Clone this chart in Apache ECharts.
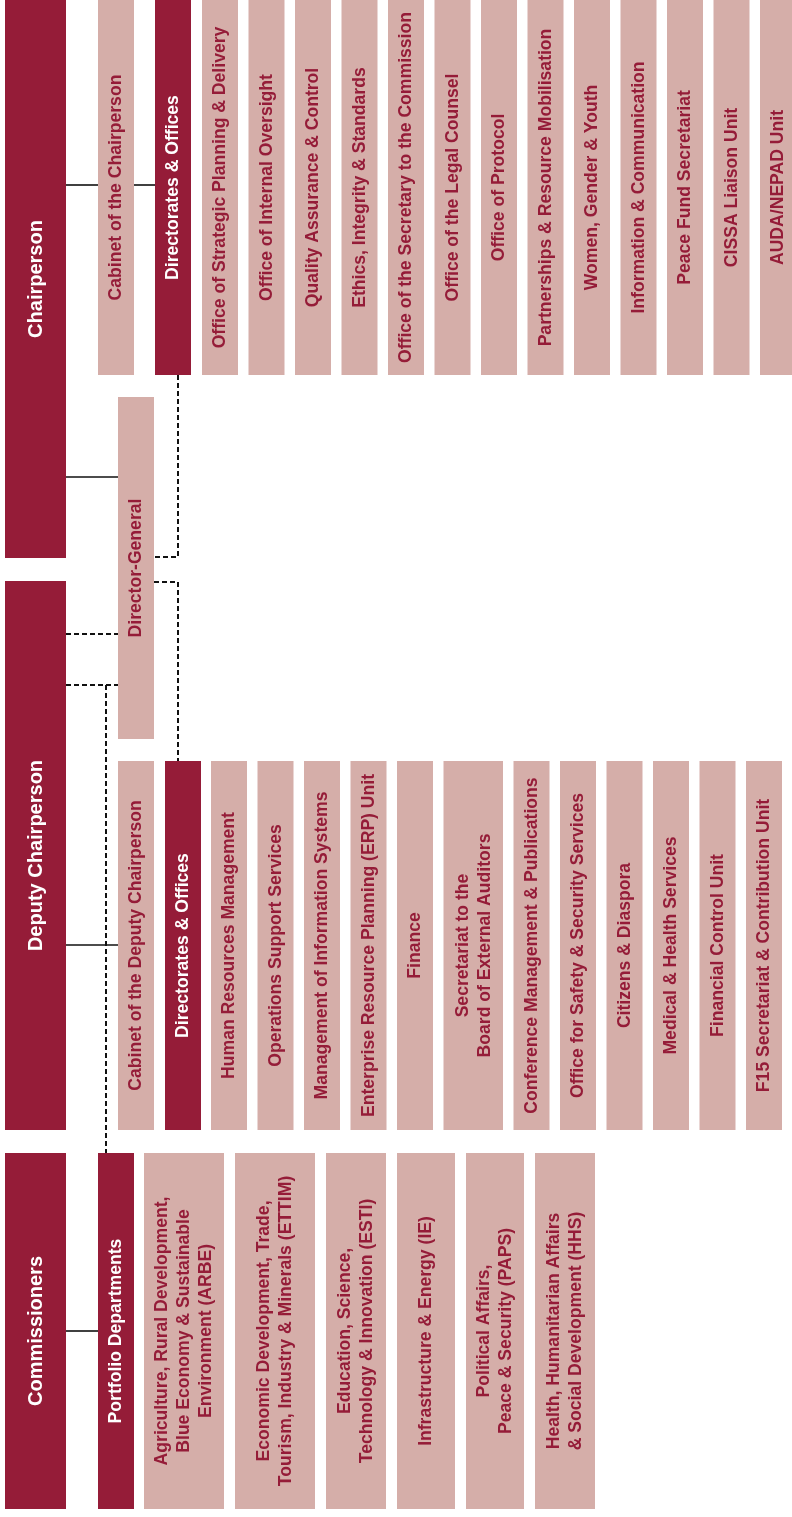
<!DOCTYPE html>
<html><head><meta charset="utf-8">
<script src="https://cdn.jsdelivr.net/npm/echarts@6/dist/echarts.min.js"></script>
<style>html,body{margin:0;padding:0;background:#fff}#c{width:792px;height:1517px}</style>
</head><body><div id="c"></div><script>
// ---------------- DATA (labels) ----------------
const leaders = ['Chairperson', 'Deputy Chairperson', 'Commissioners'];
const chairCabinet = 'Cabinet of the Chairperson';
const chairHub = 'Directorates & Offices';
const chairOffices = [
  'Office of Strategic Planning & Delivery',
  'Office of Internal Oversight',
  'Quality Assurance & Control',
  'Ethics, Integrity & Standards',
  'Office of the Secretary to the Commission',
  'Office of the Legal Counsel',
  'Office of Protocol',
  'Partnerships & Resource Mobilisation',
  'Women, Gender & Youth',
  'Information & Communication',
  'Peace Fund Secretariat',
  'CISSA Liaison Unit',
  'AUDA/NEPAD Unit'
];
const directorGeneral = 'Director-General';
const deputyCabinet = 'Cabinet of the Deputy Chairperson';
const deputyHub = 'Directorates & Offices';
const deputyOffices = [
  'Human Resources Management',
  'Operations Support Services',
  'Management of Information Systems',
  'Enterprise Resource Planning (ERP) Unit',
  'Finance',
  'Secretariat to the\nBoard of External Auditors',
  'Conference Management & Publications',
  'Office for Safety & Security Services',
  'Citizens & Diaspora',
  'Medical & Health Services',
  'Financial Control Unit',
  'F15 Secretariat & Contribution Unit'
];
const portfolioHub = 'Portfolio Departments';
const portfolioDepartments = [
  'Agriculture, Rural Development,\nBlue Economy & Sustainable\nEnvironment (ARBE)',
  'Economic Development, Trade,\nTourism, Industry & Minerals (ETTIM)',
  'Education, Science,\nTechnology & Innovation (ESTI)',
  'Infrastructure & Energy (IE)',
  'Political Affairs,\nPeace & Security (PAPS)',
  'Health, Humanitarian Affairs\n& Social Development (HHS)'
];

// ---------------- LAYOUT / STYLE ----------------
const DARK = '#951c38', LIGHT = '#d5aea9', LINE = '#111111';
const FS_BIG = 20, FS = 17.6, LH = 22;
const W = 36;
const leaderX = [5, 66];
const leaderY = [[0, 558], [581, 1130], [1153, 1509]];
const rowY = { chair: [0, 375], dg: [397, 739], deputy: [761, 1130], comm: [1153, 1509] };
const deptWidths = [80, 80, 60, 58, 58, 60];
const secretariatWidth = 59.5;

const boxes = [];
function addBox(x0, x1, y, dark, label, fs) {
  boxes.push({ x0: x0, x1: x1, y0: y[0], y1: y[1], dark: dark, label: label, fs: fs || FS });
}
// leaders
leaders.forEach((t, i) => addBox(leaderX[0], leaderX[1], leaderY[i], true, t, FS_BIG));
// chair row
addBox(98, 98 + W, rowY.chair, false, chairCabinet);
addBox(155, 155 + W, rowY.chair, true, chairHub);
chairOffices.forEach((t, i) => { const x = 202 + i * 46.5; addBox(x, x + W, rowY.chair, false, t); });
// DG
addBox(118, 118 + W, rowY.dg, false, directorGeneral);
// deputy row
addBox(118, 118 + W, rowY.deputy, false, deputyCabinet);
addBox(165, 165 + W, rowY.deputy, true, deputyHub);
(function () {
  let x = 211;
  deputyOffices.forEach((t) => {
    const w = t.indexOf('\n') >= 0 ? secretariatWidth : W;
    addBox(x, x + w, rowY.deputy, false, t);
    x += w + 10.5;
  });
})();
// commissioners row
addBox(98, 98 + W, rowY.comm, true, portfolioHub);
(function () {
  let x = 144;
  portfolioDepartments.forEach((t, i) => {
    addBox(x, x + deptWidths[i], rowY.comm, false, t);
    x += deptWidths[i] + 11;
  });
})();

// connectors
const connectors = [
  { dash: false, pts: [[66, 185], [98, 185]] },
  { dash: false, pts: [[134, 185], [155, 185]] },
  { dash: false, pts: [[66, 477], [118, 477]] },
  { dash: false, pts: [[66, 945], [118, 945]] },
  { dash: false, pts: [[66, 1331], [98, 1331]] },
  { dash: true, pts: [[178, 375], [178, 557], [154, 557]] },
  { dash: true, pts: [[154, 582], [178, 582], [178, 761]] },
  { dash: true, pts: [[66, 634], [118, 634]] },
  { dash: true, pts: [[66, 685], [118, 685]] },
  { dash: true, pts: [[106, 685], [106, 1153]] }
];

const FONT_FAMILY = '"Liberation Sans", Arial, Helvetica, sans-serif';

function renderBox(params, api) {
  const b = boxes[api.value(4)];
  const p0 = api.coord([api.value(0), api.value(1)]);
  const p1 = api.coord([api.value(2), api.value(3)]);
  const x = p0[0], y = p0[1], w = p1[0] - p0[0], h = p1[1] - p0[1];
  return {
    type: 'group',
    children: [
      { type: 'rect', shape: { x: x, y: y, width: w, height: h }, style: { fill: b.dark ? DARK : LIGHT } },
      {
        type: 'text', x: x + w / 2 + 0.5, y: y + h / 2, rotation: Math.PI / 2,
        style: {
          text: b.label, fill: b.dark ? '#ffffff' : DARK,
          font: 'bold ' + b.fs + 'px ' + FONT_FAMILY,
          align: 'center', verticalAlign: 'middle', lineHeight: LH
        }
      }
    ]
  };
}
function renderLine(params, api) {
  const c = connectors[api.value(0)];
  const pts = c.pts.map(p => api.coord(p));
  return {
    type: 'polyline',
    shape: { points: pts },
    style: { stroke: LINE, lineWidth: c.dash ? 2 : 1.6, fill: null, lineDash: c.dash ? [5, 3] : null }
  };
}

const chart = echarts.init(document.getElementById('c'), null, { renderer: 'canvas' });
chart.setOption({
  animation: false,
  backgroundColor: '#ffffff',
  grid: { left: 0, right: 0, top: 0, bottom: 0 },
  xAxis: { type: 'value', min: 0, max: 792, show: false },
  yAxis: { type: 'value', min: 0, max: 1517, inverse: true, show: false },
  series: [
    {
      type: 'custom', renderItem: renderLine, clip: false,
      data: connectors.map((c, i) => [i]), z: 1
    },
    {
      type: 'custom', renderItem: renderBox, clip: false,
      data: boxes.map((b, i) => [b.x0, b.y0, b.x1, b.y1, i]), z: 2
    }
  ]
});
</script></body></html>
